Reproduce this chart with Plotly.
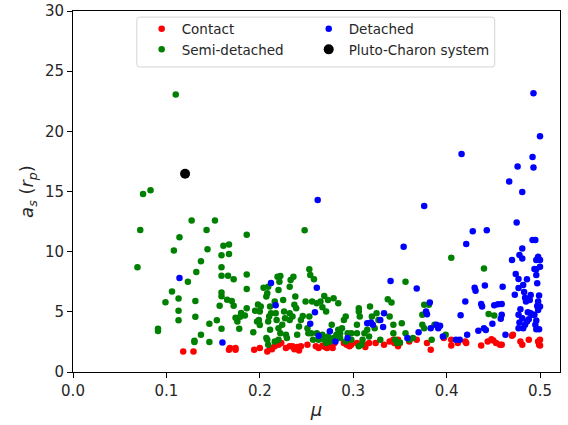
import plotly.graph_objects as go

contact_mu = [0.118, 0.129, 0.167, 0.168, 0.174, 0.174, 0.194, 0.200, 0.208, 0.211, 0.213, 0.216,
              0.220, 0.223, 0.228, 0.232, 0.235, 0.237, 0.240, 0.242, 0.244, 0.251, 0.260, 0.263,
              0.267, 0.270, 0.272, 0.275, 0.278, 0.280, 0.290, 0.293, 0.296, 0.298, 0.304, 0.312,
              0.313, 0.317, 0.324, 0.333, 0.339, 0.343, 0.344, 0.348, 0.348, 0.350, 0.360, 0.368,
              0.379, 0.383, 0.397, 0.405, 0.405, 0.412, 0.420, 0.421, 0.437, 0.444, 0.448, 0.450,
              0.453, 0.457, 0.459, 0.470, 0.471, 0.479, 0.481, 0.488, 0.498, 0.499, 0.500, 0.500]
contact_as = [1.71, 1.71, 1.85, 1.99, 1.85, 1.99, 1.85, 1.99, 1.71, 1.99, 1.90, 2.13,
              2.26, 2.40, 1.99, 2.13, 2.13, 1.90, 2.07, 1.79, 2.13, 2.26, 2.13, 1.99,
              2.18, 2.07, 1.99, 2.26, 1.99, 2.40, 2.40, 2.26, 2.13, 2.26, 2.40, 2.26,
              2.07, 2.40, 2.40, 2.26, 2.54, 2.68, 2.40, 2.13, 2.68, 2.40, 2.54, 2.68,
              2.40, 1.85, 2.82, 2.68, 2.21, 2.40, 2.54, 2.40, 2.21, 2.54, 2.73, 2.62,
              2.40, 2.26, 2.26, 3.01, 3.09, 2.54, 2.26, 2.68, 2.54, 2.26, 2.68, 2.21]

semi_mu = [0.110, 0.075, 0.083, 0.072, 0.069, 0.099, 0.091, 0.091, 0.106, 0.108, 0.114, 0.113,
           0.113, 0.113, 0.123, 0.127, 0.131, 0.131, 0.132, 0.130, 0.130, 0.137, 0.137, 0.143,
           0.144, 0.146, 0.146, 0.152, 0.154, 0.157, 0.159, 0.159, 0.159, 0.159, 0.159, 0.159,
           0.161, 0.167, 0.167, 0.166, 0.165, 0.170, 0.172, 0.172, 0.174, 0.176, 0.178, 0.179,
           0.180, 0.186, 0.186, 0.186, 0.186, 0.184, 0.193, 0.195, 0.197, 0.198, 0.200, 0.204,
           0.200, 0.201, 0.199, 0.207, 0.208, 0.209, 0.211, 0.212, 0.210, 0.209, 0.211, 0.208,
           0.209, 0.216, 0.217, 0.218, 0.220, 0.222, 0.220, 0.221, 0.219, 0.222, 0.225, 0.226,
           0.227, 0.224, 0.228, 0.229, 0.232, 0.232, 0.232, 0.233, 0.236, 0.238, 0.237, 0.235,
           0.239, 0.240, 0.242, 0.244, 0.246, 0.249, 0.251, 0.252, 0.253, 0.248, 0.253, 0.254,
           0.258, 0.256, 0.261, 0.265, 0.267, 0.269, 0.271, 0.273, 0.277, 0.279, 0.284, 0.284,
           0.286, 0.288, 0.290, 0.292, 0.294, 0.298, 0.304, 0.304, 0.306, 0.306, 0.307, 0.310,
           0.312, 0.315, 0.317, 0.318, 0.320, 0.323, 0.325, 0.327, 0.329, 0.337, 0.339, 0.341,
           0.343, 0.343, 0.345, 0.347, 0.350, 0.352, 0.356, 0.356, 0.360, 0.364, 0.374, 0.374,
           0.376, 0.376, 0.381, 0.384, 0.387, 0.399, 0.405, 0.440, 0.445, 0.451,
           0.255, 0.257, 0.261, 0.263, 0.267, 0.269, 0.271, 0.273, 0.275, 0.279, 0.282, 0.286,
           0.292, 0.298, 0.306, 0.309, 0.207, 0.216, 0.220]
semi_as = [23.07, 14.80, 15.10, 11.80, 8.70, 5.80, 3.60, 3.40, 6.70, 10.10, 11.20, 6.10,
           5.10, 4.30, 7.50, 12.60, 5.90, 4.60, 8.30, 2.60, 2.50, 9.20, 3.10, 11.80,
           10.20, 4.00, 2.50, 12.60, 4.30, 5.50, 9.70, 8.70, 8.00, 6.60, 6.30, 3.60,
           10.50, 10.60, 9.80, 8.00, 6.00, 5.90, 5.50, 7.70, 4.50, 4.20, 3.60, 4.60,
           4.90, 11.40, 8.10, 6.90, 5.30, 4.70, 3.30, 5.10, 4.20, 5.60, 3.90, 7.00,
           5.02, 5.44, 4.33, 6.27, 6.54, 7.09, 5.44, 4.89, 4.61, 4.20, 3.51, 2.68,
           2.26, 5.85, 4.89, 4.33, 3.64, 3.23, 6.82, 7.51, 7.92, 7.98, 5.99, 5.02,
           4.47, 3.92, 3.09, 2.82, 4.33, 4.89, 7.09, 7.65, 7.92, 6.27, 5.58, 4.61,
           5.30, 3.09, 3.78, 4.33, 4.66, 5.85, 3.64, 3.23, 4.61, 11.79, 8.53, 8.06,
           7.70, 5.85, 5.71, 5.85, 5.38, 6.32, 5.02, 5.99, 3.92, 6.13, 5.71, 3.51,
           3.23, 3.64, 4.33, 4.61, 3.23, 3.23, 3.23, 3.92, 5.30, 5.02, 4.61, 2.68,
           3.23, 3.51, 2.95, 5.44, 4.61, 3.64, 4.89, 4.33, 2.68, 6.04, 4.61, 5.77,
           3.92, 3.23, 2.68, 2.40, 2.46, 4.06, 3.23, 7.51, 2.68, 2.82, 3.92, 4.75,
           5.58, 3.64, 5.58, 2.68, 3.92, 3.09, 9.50, 8.61, 4.83, 4.69,
           3.23, 2.68, 3.23, 2.68, 3.09, 2.68, 2.40, 2.95, 2.54, 2.82, 3.09, 2.82,
           2.54, 2.68, 2.13, 2.26, 2.82, 2.54, 2.68]

detached_mu = [0.114, 0.160, 0.212, 0.217, 0.262, 0.261, 0.259, 0.254, 0.263, 0.275, 0.281, 0.294,
               0.315, 0.319, 0.321, 0.329, 0.332, 0.333, 0.340, 0.354, 0.358, 0.368, 0.370, 0.376,
               0.378, 0.379, 0.382, 0.383, 0.389, 0.391, 0.393, 0.396, 0.410, 0.414, 0.415, 0.416,
               0.420, 0.421, 0.422, 0.428, 0.430, 0.431, 0.434, 0.437, 0.438, 0.440, 0.442, 0.443,
               0.441, 0.449, 0.451, 0.455, 0.459, 0.458, 0.459, 0.460, 0.463, 0.467, 0.470, 0.473,
               0.474, 0.475, 0.476, 0.477, 0.477, 0.478, 0.479, 0.481, 0.481, 0.481, 0.482, 0.483,
               0.484, 0.485, 0.486, 0.477, 0.477, 0.478, 0.481, 0.482, 0.484, 0.486, 0.487, 0.488,
               0.489, 0.490, 0.492, 0.493, 0.492, 0.495, 0.493, 0.500, 0.496, 0.494, 0.496, 0.496,
               0.497, 0.498, 0.500, 0.500, 0.499, 0.498, 0.497, 0.498, 0.496, 0.495, 0.496, 0.499,
               0.500, 0.492, 0.490, 0.494]
detached_as = [7.81, 2.46, 7.40, 5.55, 14.30, 7.01, 4.97, 4.00, 3.01, 3.39, 2.54, 2.82,
               4.06, 4.11, 3.92, 4.33, 3.73, 4.89, 7.56, 10.41, 2.82, 6.93, 3.31, 13.80,
               5.02, 4.80, 5.77, 3.64, 3.92, 3.64, 3.84, 2.95, 2.68, 2.68, 4.72, 18.11,
               5.85, 10.63, 3.09, 11.70, 7.01, 6.76, 3.42, 5.66, 5.44, 3.64, 3.50, 11.79,
               7.18, 4.00, 5.55, 5.63, 5.66, 4.42, 4.75, 7.09, 3.09, 15.84, 9.30, 6.43,
               8.14, 12.42, 17.08, 7.73, 6.98, 9.72, 5.22, 14.96, 10.27, 9.44, 7.23, 6.65,
               6.18, 5.85, 7.70, 4.75, 3.64, 4.11, 4.47, 3.64, 3.92, 4.20, 4.97, 4.39,
               5.99, 6.40, 17.86, 17.00, 10.96, 10.96, 23.16, 19.60, 9.30, 8.56, 8.53, 8.06,
               7.37, 9.58, 9.30, 8.75, 6.35, 5.85, 5.49, 5.16, 4.28, 3.92, 3.56, 3.56,
               5.44, 4.75, 4.89, 4.75]

pluto_mu = [0.120]
pluto_as = [16.48]

x_ticks = [0.0, 0.1, 0.2, 0.3, 0.4, 0.5]
y_ticks = [0, 5, 10, 15, 20, 25, 30]

fig = go.Figure()
fig.add_trace(go.Scatter(x=contact_mu, y=contact_as, mode="markers", name="Contact",
                         marker=dict(color="red", size=6.5), legend="legend"))
fig.add_trace(go.Scatter(x=semi_mu, y=semi_as, mode="markers", name="Semi-detached",
                         marker=dict(color="green", size=6.5), legend="legend"))
fig.add_trace(go.Scatter(x=detached_mu, y=detached_as, mode="markers", name="Detached",
                         marker=dict(color="blue", size=6.5), legend="legend2"))
fig.add_trace(go.Scatter(x=pluto_mu, y=pluto_as, mode="markers", name="Pluto-Charon system",
                         marker=dict(color="black", size=10), legend="legend2"))

font = "DejaVu Sans"
legend_common = dict(orientation="v", yanchor="top", xanchor="left", y=0.993,
                     bgcolor="rgba(0,0,0,0)", borderwidth=0, tracegroupgap=0,
                     font=dict(family=font, size=13.5, color="#262626"), itemsizing="trace")

# legend frame (styling only)
x0, x1, y0, y1 = 0.131, 0.866, 0.845, 0.983
rx, ry = 0.006, 0.008
frame_path = (f"M{x0+rx},{y0} L{x1-rx},{y0} Q{x1},{y0} {x1},{y0+ry} L{x1},{y1-ry} "
              f"Q{x1},{y1} {x1-rx},{y1} L{x0+rx},{y1} Q{x0},{y1} {x0},{y1-ry} "
              f"L{x0},{y0+ry} Q{x0},{y0} {x0+rx},{y0} Z")

fig.update_layout(
    width=568, height=425,
    margin=dict(l=73, r=8, t=11, b=53, autoexpand=False),
    paper_bgcolor="white", plot_bgcolor="white",
    font=dict(family=font, size=15, color="#262626"),
    showlegend=True,
    legend=dict(x=0.141, **legend_common),
    legend2=dict(x=0.484, **legend_common),
    shapes=[dict(type="path", path=frame_path, xref="paper", yref="paper",
                 line=dict(color="#d4d4d4", width=1), fillcolor="rgba(255,255,255,0.8)",
                 layer="below")],
    xaxis=dict(range=[0, 0.5214], tickvals=x_ticks, ticktext=[f"{v:.1f}" for v in x_ticks],
               showgrid=False, zeroline=False, showline=True, mirror=True,
               linecolor="black", linewidth=1, ticks="outside", ticklen=5, tickcolor="black",
               title=dict(text="<i>μ</i>", font=dict(size=18), standoff=4)),
    yaxis=dict(range=[0, 30], tickvals=y_ticks, ticktext=[str(v) for v in y_ticks],
               showgrid=False, zeroline=False, showline=True, mirror=True,
               linecolor="black", linewidth=1, ticks="outside", ticklen=5, tickcolor="black",
               title=dict(text="<i>a</i><sub><i>s</i></sub> (<i>r</i><sub><i>p</i></sub>)",
                          font=dict(size=18), standoff=6)),
)
fig.write_html("out.html")
